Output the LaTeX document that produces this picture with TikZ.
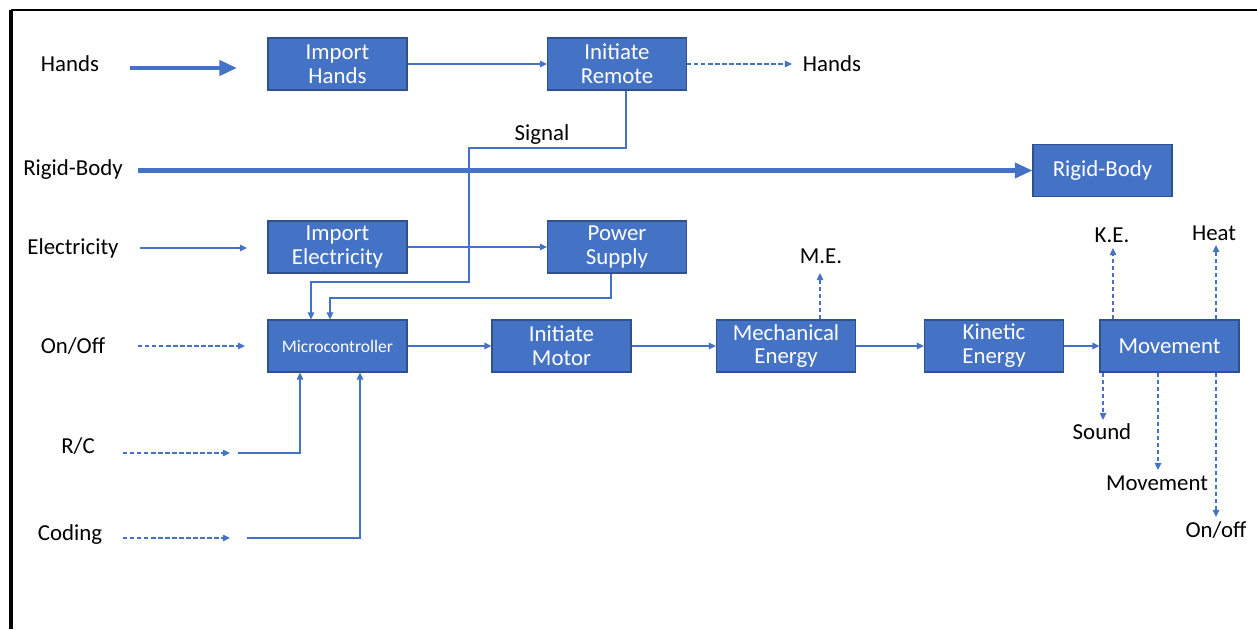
\documentclass[tikz,border=0pt]{standalone}
\usepackage{fontspec}
\setmainfont{Carlito}
\usepackage{tikz}
\usetikzlibrary{arrows.meta, positioning}
\definecolor{officeblue}{RGB}{68,114,196}
\definecolor{boxedge}{RGB}{47,82,143}

\begin{document}
\begin{tikzpicture}[
  box/.style     = {rectangle, draw=boxedge, line width=0.6pt, fill=officeblue,
                    text=white, minimum width=2.78cm, minimum height=1.04cm,
                    inner sep=0pt, align=center,
                    font=\fontsize{13}{13.6}\selectfont},
  smallbox/.style= {box, font=\fontsize{10}{12}\selectfont},
  lbl/.style     = {inner sep=1pt, font=\fontsize{13}{14}\selectfont},
  arr/.style     = {-{Triangle[length=4pt,width=3.6pt]}, line width=1.1pt, officeblue},
  ln/.style      = {line width=1.1pt, officeblue},
  dsh/.style     = {arr, line width=0.8pt, dash pattern=on 2.5pt off 1.5pt},
  bigarr/.style  = {-{Triangle[length=10pt,width=8.5pt]}, line width=2.3pt, officeblue}
]
\useasboundingbox (0,0) rectangle (25.14,12.58);
\draw[line width=2.3pt] (0.22,0) -- (0.22,12.38);
\draw[line width=1.1pt] (0.22,12.38) -- (25.14,12.38);

\node[box]      (ih) at (6.75, 11.30) {Import\\Hands};
\node[box]      (ir) at (12.34,11.30) {Initiate\\Remote};
\node[box]      (rb) at (22.05, 9.17) {Rigid-Body};
\node[box]      (ie) at (6.75,  7.64) {Import\\Electricity};
\node[box]      (ps) at (12.34, 7.64) {Power\\Supply};
\node[smallbox] (mc) at (6.75,  5.66) {Microcontroller};
\node[box]      (im) at (11.23, 5.66) {Initiate\\Motor};
\node[box]      (me) at (15.72, 5.66) {Mechanical\\Energy};
\node[box]      (ke) at (19.88, 5.66) {Kinetic\\Energy};
\node[box]      (mv) at (23.39, 5.66) {Movement};

\node[lbl] (lhands)  at (1.40, 11.30) {Hands};
\node[lbl] (lrigid)  at (1.46,  9.18) {Rigid-Body};
\node[lbl] (lelec)   at (1.46,  7.62) {Electricity};
\node[lbl] (lonoff)  at (1.46,  5.66) {On/Off};
\node[lbl] (lrc)     at (1.56,  3.66) {R/C};
\node[lbl] (lcoding) at (1.40,  1.88) {Coding};
\node[lbl] (lhout)   at (16.64,11.30) {Hands};
\node[lbl] (lsignal) at (10.84, 9.88) {Signal};
\node[lbl] (lme)     at (16.42, 7.46) {M.E.};
\node[lbl] (lke)     at (22.24, 7.88) {K.E.};
\node[lbl] (lheat)   at (24.28, 7.92) {Heat};
\node[lbl] (lsound)  at (22.04, 3.94) {Sound};
\node[lbl] (lmove)   at (23.14, 2.92) {Movement};
\node[lbl] (loff)    at (24.32, 1.98) {On/off};

\coordinate (hA)   at (2.60, 11.22);
\coordinate (hB)   at (4.74, 11.22);
\coordinate (rA)   at (2.76,  9.17);
\coordinate (eA)   at (2.80,  7.62);
\coordinate (eB)   at (4.94,  7.62);
\coordinate (oA)   at (2.76,  5.66);
\coordinate (oB)   at (4.90,  5.66);
\coordinate (rcA)  at (2.46,  3.52);
\coordinate (rcB)  at (4.60,  3.52);
\coordinate (rcC)  at (4.76,  3.52);
\coordinate (rcD)  at (6.00,  3.52);
\coordinate (cdA)  at (2.46,  1.82);
\coordinate (cdB)  at (4.60,  1.82);
\coordinate (cdC)  at (4.94,  1.82);
\coordinate (cdD)  at (7.20,  1.82);
\coordinate (hoB)  at (15.84,11.30);
\coordinate (sigA) at (12.52, 9.62);
\coordinate (sigB) at (9.38,  6.94);
\coordinate (sigC) at (6.22,  6.94);
\coordinate (pwA)  at (12.22, 6.62);
\coordinate (pwB)  at (6.60,  6.62);
\coordinate (meU)  at (16.40, 7.12);
\coordinate (keU)  at (22.26, 7.62);
\coordinate (htU)  at (24.32, 7.68);
\coordinate (sdD)  at (22.06, 4.18);
\coordinate (mvD)  at (23.16, 3.18);
\coordinate (ofD)  at (24.32, 2.24);

\draw[bigarr] (hA) -- (hB);
\draw[bigarr] (rA) -- (rb.west);
\draw[arr] (eA) -- (eB);
\draw[dsh] (oA) -- (oB);
\draw[dsh] (rcA) -- (rcB);
\draw[dsh] (cdA) -- (cdB);
\draw[arr] (rcC) -- (rcD) -- (mc.south -| rcD);
\draw[arr] (cdC) -- (cdD) -- (mc.south -| cdD);

\draw[arr] (ih) -- (ir);
\draw[dsh] (ir.east) -- (hoB);
\draw[arr] (ir.south -| sigA) -- (sigA) -| (sigB) -- (sigC) -- (mc.north -| sigC);
\draw[arr] (ie) -- (ps);
\draw[arr] (ps.south -| pwA) -- (pwA) -- (pwB) -- (mc.north -| pwB);

\draw[arr] (mc) -- (im);
\draw[arr] (im) -- (me);
\draw[arr] (me) -- (ke);
\draw[arr] (ke) -- (mv);

\draw[dsh] (me.north -| meU) -- (meU);
\draw[dsh] (mv.north -| keU) -- (keU);
\draw[dsh] (mv.north -| htU) -- (htU);
\draw[dsh] (mv.south -| sdD) -- (sdD);
\draw[dsh] (mv.south -| mvD) -- (mvD);
\draw[dsh] (mv.south -| ofD) -- (ofD);
\end{tikzpicture}
\end{document}
